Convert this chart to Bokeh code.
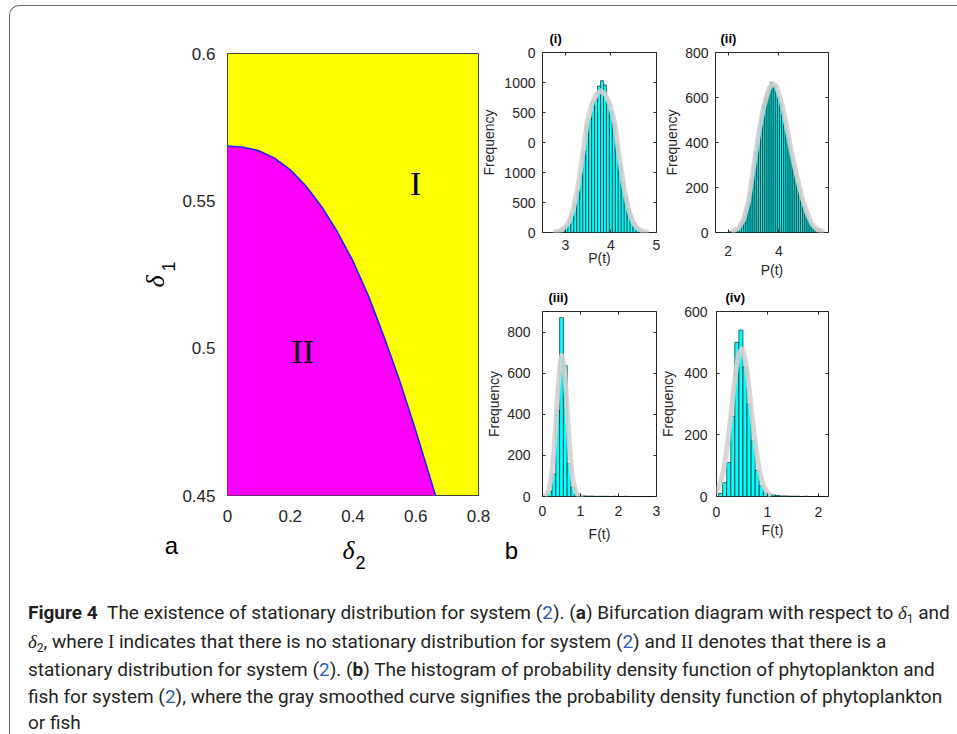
import numpy as np
from jinja2 import Template
from bokeh.plotting import figure
from bokeh.models import Range1d, FixedTicker, LinearAxis, Div
from bokeh.layouts import row, column
from bokeh.embed import file_html
from bokeh.resources import INLINE
from bokeh.core.properties import value

# ---------------- data ----------------
# (a) boundary between region I and region II
delta2_boundary = [0.0, 0.05, 0.10, 0.15, 0.20, 0.25, 0.30, 0.35, 0.40, 0.45, 0.50, 0.55, 0.60, 0.663]
delta1_boundary = [0.5686, 0.5682, 0.5670, 0.5645, 0.5605, 0.5550, 0.5480, 0.5395, 0.5295, 0.5175, 0.5035, 0.4885, 0.4720, 0.4500]
delta2_ticks = [0, 0.2, 0.4, 0.6, 0.8]
delta2_tick_labels = ["0", "0.2", "0.4", "0.6", "0.8"]
delta1_ticks = [0.45, 0.5, 0.55, 0.6]
delta1_tick_labels = ["0.45", "0.5", "0.55", "0.6"]
region_names = ["I", "II"]
region_delta2 = [0.60, 0.24]
region_delta1 = [0.556, 0.499]

# (b)(i) phytoplankton P(t)
hist_i_start, hist_i_width = 2.7975, 0.065
hist_i_counts = [18, 35, 75, 120, 200, 320, 480, 700, 980, 1350, 1790, 1900, 2180, 2210, 2440, 2530,
                 2460, 2200, 2010, 1820, 1480, 1130, 830, 590, 400, 250, 150, 80, 40, 20, 8]
curve_i_x = [2.78, 2.88, 2.98, 3.08, 3.18, 3.28, 3.38, 3.48, 3.58, 3.68, 3.78, 3.88, 3.98, 4.08,
             4.18, 4.28, 4.38, 4.48, 4.58, 4.68, 4.78]
curve_i_y = [10, 28, 70, 170, 400, 780, 1280, 1830, 2130, 2300, 2360, 2300, 2130, 1830, 1280,
             780, 400, 170, 70, 28, 10]
ticks_i_x = [3, 4, 5]
ticks_i_y = [0, 500, 1000, 1500, 2000, 2500, 3000]
ticks_i_y_labels = ["0", "500", "1000", "0", "500", "1000", "0"]

# (b)(ii) phytoplankton P(t)
hist_ii_start, hist_ii_width = 2.0, 0.075
hist_ii_counts = [2, 4, 6, 9, 14, 22, 32, 48, 70, 100, 138, 180, 238, 300, 360, 415, 470, 520, 565, 600,
                  625, 648, 668, 660, 650, 630, 605, 575, 540, 500, 460, 420, 380, 338, 298, 258, 220,
                  185, 152, 122, 96, 74, 56, 40, 28, 20, 14, 18, 6, 3]
curve_ii_x = [2.2, 2.4, 2.6, 2.8, 3.0, 3.2, 3.4, 3.6, 3.75, 3.9, 4.1, 4.3, 4.5, 4.7, 4.9, 5.1, 5.3, 5.5, 5.7]
curve_ii_y = [8, 20, 55, 140, 290, 440, 560, 638, 663, 648, 578, 470, 355, 250, 160, 88, 38, 14, 5]
ticks_ii_x = [2, 4]
ticks_ii_y = [0, 200, 400, 600, 800]
ticks_ii_y_labels = ["0", "200", "400", "600", "800"]

# (b)(iii) fish F(t)
hist_iii_start, hist_iii_width = -0.05, 0.1
hist_iii_counts = [2, 8, 25, 110, 420, 870, 637, 160, 45, 12, 5, 3, 2, 2, 1, 1, 1, 1, 0, 1, 0, 0, 1,
                   0, 0, 0, 0, 0, 0, 0, 0]
curve_iii_x = [0.01, 0.11, 0.16, 0.21, 0.26, 0.31, 0.36, 0.41, 0.46, 0.51, 0.56, 0.61, 0.66, 0.71,
               0.76, 0.81, 0.86, 0.91, 1.01]
curve_iii_y = [1, 12, 30, 69, 139, 247, 386, 532, 643, 686, 643, 532, 386, 247, 139, 69, 30, 12, 1]
ticks_iii_x = [0, 1, 2, 3]
ticks_iii_y = [0, 200, 400, 600, 800]
ticks_iii_y_labels = ["0", "200", "400", "600", "800"]

# (b)(iv) fish F(t)
hist_iv_start, hist_iv_width = 0.04, 0.08
hist_iv_counts = [10, 45, 110, 260, 500, 540, 420, 300, 180, 85, 35, 12, 8, 5, 3, 2, 2, 1, 1, 1, 0, 1,
                  0, 0, 0, 0, 0]
curve_iv_x = [0.0, 0.04, 0.09, 0.14, 0.19, 0.24, 0.29, 0.34, 0.39, 0.44, 0.49, 0.54, 0.59, 0.64,
              0.69, 0.74, 0.79, 0.84, 0.89, 0.94, 0.99, 1.04]
curve_iv_y = [17, 29, 52, 88, 138, 201, 275, 351, 417, 463, 479, 463, 417, 351, 275, 201, 138, 88,
              52, 29, 15, 7]
ticks_iv_x = [0, 1, 2]
ticks_iv_y = [0, 200, 400, 600]
ticks_iv_y_labels = ["0", "200", "400", "600"]

caption_lines = [
    "<b>Figure 4</b>&nbsp;&nbsp;The existence of stationary distribution for system ({two}). (<b>a</b>) Bifurcation diagram with respect to {d1} and",
    "{d2}, where {I} indicates that there is no stationary distribution for system ({two}) and {II} denotes that there is a",
    "stationary distribution for system ({two}). (<b>b</b>) The histogram of probability density function of phytoplankton and",
    "fish for system ({two}), where the gray smoothed curve signifies the probability density function of phytoplankton",
    "or fish",
]

# ---------------- styling ----------------
AX = "#262626"
TXT = "#262626"
SANS = "Liberation Sans"
SERIF = "Liberation Serif"
CYAN = "#00ffff"

# ---------------- panel (a) ----------------
pa = figure(width=500, height=600, x_range=Range1d(0, 0.8), y_range=Range1d(0.45, 0.6),
            min_border_left=227, min_border_right=22, min_border_top=53, min_border_bottom=105,
            output_backend="svg", toolbar_location=None, tools="")
pa.background_fill_color = "#ffff00"
pa.border_fill_color = None
pa.outline_line_color = "#404040"
pa.outline_line_width = 1
pa.grid.visible = False
pa.patch(delta2_boundary + [delta2_boundary[0]], delta1_boundary + [delta1_ticks[0]],
         fill_color="#ff00ff", line_color=None)
pa.line(delta2_boundary, delta1_boundary, line_color="#2020ff", line_width=1.6)
pa.text(x=region_delta2, y=region_delta1, text=region_names, text_font=value(SERIF),
        text_font_size="34px", text_align="center", text_baseline="middle", text_color="black")

for ax, ticks, labels, std in ((pa.xaxis[0], delta2_ticks, delta2_tick_labels, 8),
                               (pa.yaxis[0], delta1_ticks, delta1_tick_labels, 6)):
    ax.ticker = FixedTicker(ticks=ticks)
    ax.major_label_overrides = dict(zip(ticks, labels))
    ax.major_tick_line_color = None
    ax.minor_tick_line_color = None
    ax.axis_line_color = None
    ax.major_label_text_font = SANS
    ax.major_label_text_font_size = "17px"
    ax.major_label_text_color = TXT
    ax.major_label_standoff = std


# ---------------- panels (b) ----------------
def hist_panel(title, start, bw, counts, cx, cy, xr, yr, xt, yt, ytl, xlabel,
               w, h, bl, br, bt, bb, toff, xstd, xlstd, ystd, ylstd, styles=None):
    kw = dict(styles=styles) if styles else {}
    p = figure(width=w, height=h, x_range=Range1d(*xr), y_range=Range1d(*yr),
               min_border_left=bl, min_border_right=br, min_border_top=bt, min_border_bottom=bb,
               output_backend="svg", toolbar_location=None, tools="", title=title, **kw)
    p.border_fill_color = None
    p.background_fill_color = "white"
    p.outline_line_color = AX
    p.outline_line_width = 1
    p.grid.visible = False
    edges = start + bw * np.arange(len(counts) + 1)
    p.quad(left=edges[:-1], right=edges[1:], bottom=0, top=counts,
           fill_color=CYAN, line_color="black", line_width=0.6)
    p.line(cx, cy, line_color="#d2d2d2", line_width=5, line_alpha=0.9,
           line_join="round", line_cap="round")

    xa, ya = p.xaxis[0], p.yaxis[0]
    xa.ticker = FixedTicker(ticks=xt)
    xa.major_label_overrides = {t: str(t) for t in xt}
    ya.ticker = FixedTicker(ticks=yt)
    ya.major_label_overrides = dict(zip(yt, ytl))
    xa.axis_label = xlabel
    ya.axis_label = "Frequency"
    for ax, std, lstd in ((xa, xstd, xlstd), (ya, ystd, ylstd)):
        ax.major_tick_in = 3
        ax.major_tick_out = 0
        ax.major_tick_line_color = AX
        ax.minor_tick_line_color = None
        ax.axis_line_color = None
        ax.major_label_text_font = SANS
        ax.major_label_text_font_size = "14px"
        ax.major_label_text_color = TXT
        ax.major_label_standoff = std
        ax.axis_label_text_font = SANS
        ax.axis_label_text_font_size = "14px"
        ax.axis_label_text_font_style = "normal"
        ax.axis_label_text_color = TXT
        ax.axis_label_standoff = lstd
    # MATLAB-style box: inward ticks on top and right, without labels
    for loc, tk in (("above", xt), ("right", yt)):
        extra = LinearAxis(ticker=FixedTicker(ticks=tk), major_label_text_font_size="0px",
                           major_label_text_color=None, major_label_standoff=0,
                           major_tick_in=3, major_tick_out=0,
                           minor_tick_line_color=None, axis_line_color=None,
                           major_tick_line_color=AX)
        p.add_layout(extra, loc)
    p.title.text_font = SANS
    p.title.text_font_size = "13px"
    p.title.text_font_style = "bold"
    p.title.text_color = "black"
    p.title.align = "left"
    p.title.offset = toff
    p.title.standoff = 13
    return p


fi = hist_panel("(i)", hist_i_start, hist_i_width, hist_i_counts, curve_i_x, curve_i_y,
                (2.5, 5.0), (0, 3000), ticks_i_x, ticks_i_y, ticks_i_y_labels, "P(t)",
                185, 280, 67, 4, 52, 44, 7, 7, -3, 7, 4)
fii = hist_panel("(ii)", hist_ii_start, hist_ii_width, hist_ii_counts, curve_ii_x, curve_ii_y,
                 (1.5, 5.95), (0, 800), ticks_ii_x, ticks_ii_y, ticks_ii_y_labels, "P(t)",
                 307, 280, 65, 129, 52, 45, 5, 13, 3, 7, 2, styles={"margin-left": "-10px"})
fiii = hist_panel("(iii)", hist_iii_start, hist_iii_width, hist_iii_counts, curve_iii_x, curve_iii_y,
                  (0, 3), (0, 900), ticks_iii_x, ticks_iii_y, ticks_iii_y_labels, "F(t)",
                  185, 330, 67, 4, 41, 104, 6, 9, 7, 12, 2)
fiv = hist_panel("(iv)", hist_iv_start, hist_iv_width, hist_iv_counts, curve_iv_x, curve_iv_y,
                 (0, 2.2), (0, 600), ticks_iv_x, ticks_iv_y, ticks_iv_y_labels, "F(t)",
                 307, 330, 66, 129, 41, 104, 9, 10, 2, 9, 5, styles={"margin-left": "-10px"})

# ---------------- caption ----------------
two = '<span style="color:#2a5db8">2</span>'
serif_I = "<span style=\"font-family:'Liberation Serif'\">I</span>"
serif_II = "<span style=\"font-family:'Liberation Serif'\">II</span>"


def dsub(n):
    return ("<i style=\"font-family:'Liberation Serif'\">δ</i>"
            f"<span style=\"font-size:12px;position:relative;top:4px\">{n}</span>")


lines_html = "<br>".join(
    ln.format(two=two, d1=dsub(1), d2=dsub(2), I=serif_I, II=serif_II) for ln in caption_lines)
caption = Div(
    text=("<div style=\"font-family:Roboto,'Liberation Sans',sans-serif;font-size:19px;"
          "line-height:26.5px;color:#231f20;padding-left:28px;white-space:nowrap;\">"
          + lines_html + "</div>"),
    width=957, height=134, margin=(0, 0, 0, 0))

# ---------------- overlay with the axis titles and panel letters ----------------
ov = figure(width=957, height=734, x_range=Range1d(0, 957), y_range=Range1d(0, 734),
            min_border=0, x_axis_location=None, y_axis_location=None, output_backend="svg",
            toolbar_location=None, tools="", styles={"margin-top": "-734px"})
ov.outline_line_color = None
ov.background_fill_color = None
ov.border_fill_color = None
ov.grid.visible = False


def ov_text(px, py, txt, size, font, style="normal", angle=0.0):
    ov.text(x=[px], y=[734 - py], text=[txt], text_font=value(font), text_font_size=size,
            text_font_style=style, angle=angle, text_align="center", text_baseline="middle",
            text_color="black")


ov_text(155, 281, "δ", "26px", SERIF, "italic", np.pi / 2)
ov_text(168, 266, "1", "18px", SANS, "normal", np.pi / 2)
ov_text(348, 550, "δ", "26px", SERIF, "italic")
ov_text(360, 562, "2", "18px", SANS)
ov_text(171, 545, "a", "24px", SANS)
ov_text(511, 550, "b", "24px", SANS)

# ---------------- layout ----------------
right_top = row(fi, fii)
right_bot = row(fiii, fiv, styles={"margin-top": "-10px"})
right_col = column(right_top, right_bot, styles={"margin-left": "-25px"})
top = row(pa, right_col)
root = column(top, caption, ov)

TEMPLATE = Template("""{% extends base %}
{% block postamble %}
<style>
body::before { content: ""; position: fixed; left: 9px; top: 5px; width: 1400px; height: 1400px;
  border-top: 1.5px solid #6a6a6a; border-left: 1.5px solid #6a6a6a;
  border-top-left-radius: 10px; pointer-events: none; z-index: 10; }
</style>
{% endblock %}""")

try:
    html = file_html(root, INLINE, template=TEMPLATE)
except Exception:
    html = file_html(root, INLINE)
open("out.html", "w").write(html)
